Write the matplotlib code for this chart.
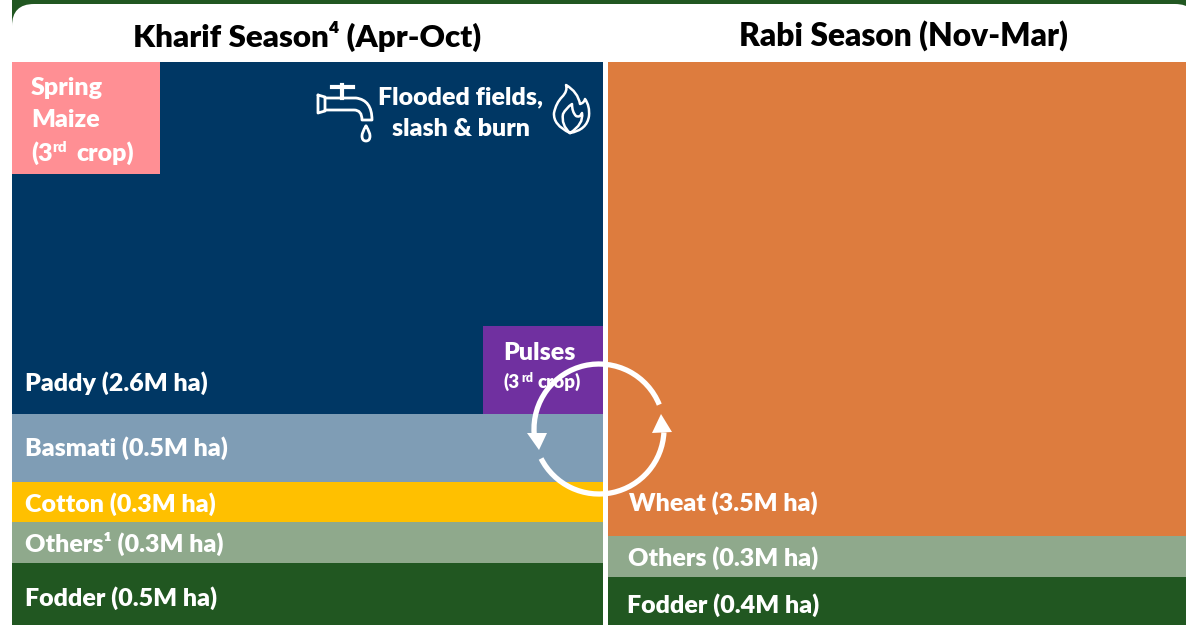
"""Cropped area by season: stacked blocks, drawn in pixel coordinates."""

import matplotlib
matplotlib.use("Agg")
import matplotlib.pyplot as plt
from matplotlib.patches import Arc, FancyBboxPatch, PathPatch, Polygon, Rectangle
from matplotlib.path import Path

plt.rcParams["font.family"] = ["Lato", "DejaVu Sans"]
plt.rcParams["font.weight"] = "heavy"

kharif_crops = ["Fodder", "Others", "Cotton", "Basmati", "Paddy"]
kharif_area = [0.46, 0.30, 0.30, 0.50, 2.61]
kharif_labels = ["Fodder (0.5M ha)", "Others¹ (0.3M ha)", "Cotton (0.3M ha)",
                 "Basmati (0.5M ha)", "Paddy (2.6M ha)"]
rabi_crops = ["Fodder", "Others", "Wheat"]
rabi_area = [0.355, 0.305, 3.51]
rabi_labels = ["Fodder (0.4M ha)", "Others (0.3M ha)", "Wheat (3.5M ha)"]

COLOURS = {"Fodder": "#215721", "Others": "#8FA98C", "Cotton": "#FFC000",
           "Basmati": "#7F9DB5", "Paddy": "#003764", "Wheat": "#DD7C3E"}
MAIZE = "#FF8F94"
PULSES = "#7030A0"

W, H = 1186, 625
PX_PER_MHA = 135
FS = 18


def stack(ax, crops, area, x0, x1):
    bottom = H
    for crop, a in zip(crops, area):
        h = a * PX_PER_MHA
        ax.bar(x0, h, width=x1 - x0, bottom=bottom - h, align="edge",
               color=COLOURS[crop], linewidth=0, zorder=2)
        bottom -= h


def label(ax, x, y, s, size=FS, **kw):
    ax.text(x, y, s, color="white", fontsize=size, va="center", ha="left", zorder=4, **kw)


def third_crop(ax, x, y, size, sup, rd_dx, crop_dx):
    # "(3rd crop)" with a raised "rd"
    label(ax, x, y, "(3", size=size)
    label(ax, x + rd_dx, y - size * 0.3, "rd", size=sup)
    label(ax, x + crop_dx, y, "crop)", size=size)


def outline(ax, verts, codes, lw=2.0):
    ax.add_patch(PathPatch(Path(verts, codes), facecolor="none", edgecolor="white",
                           lw=lw, capstyle="round", joinstyle="round", zorder=4))


def tap_icon(ax):
    M, L, C3 = Path.MOVETO, Path.LINETO, Path.CURVE3
    outline(ax, [(318, 95), (325, 97), (325, 111), (318, 113), (318, 95)],
            [M, L, L, L, L])
    outline(ax, [(325, 98), (356, 98), (372, 100), (372, 120), (362, 120),
                 (362, 110), (354, 110), (325, 110)],
            [M, L, C3, C3, L, C3, C3, L])
    ax.plot([332, 353], [87, 87], color="white", lw=3, zorder=4)
    ax.plot([342, 342], [85, 98], color="white", lw=3, zorder=4)
    # water drop, pointed at the top and round below
    outline(ax, [(366, 126), (370, 132), (370, 136), (370, 141), (366, 141),
                 (362, 141), (362, 136), (362, 132), (366, 126)],
            [M, C3, C3, C3, C3, C3, C3, C3, C3])


def flame_icon(ax):
    M, C3 = Path.MOVETO, Path.CURVE3
    outline(ax, [(570, 133), (553, 125), (554, 113), (556, 103), (562, 97),
                 (568, 91), (566, 85), (578, 92), (580, 104), (584, 103),
                 (585, 99), (590, 106), (589, 116), (587, 130), (570, 133)],
            [M, C3, C3, C3, C3, C3, C3, C3, C3, C3, C3, C3, C3, C3, C3], lw=1.8)
    outline(ax, [(570, 133), (561, 125), (563, 114), (566, 108), (572, 104),
                 (572, 112), (576, 116), (580, 118), (582, 113), (584, 124), (570, 133)],
            [M, C3, C3, C3, C3, C3, C3, C3, C3, C3, C3], lw=1.8)


def cycle_arrows(ax):
    cx, cy, d = 599, 429, 130
    for t1, t2 in [(176, 338), (3, 153)]:
        ax.add_patch(Arc((cx, cy), d, d, theta1=t1, theta2=t2, color="white", lw=3.8, zorder=5))
    ax.add_patch(Polygon([(527, 433), (547, 433), (539, 450)], color="white", lw=0, zorder=5))
    ax.add_patch(Polygon([(652, 433), (672, 432), (661, 414)], color="white", lw=0, zorder=5))


def main():
    fig = plt.figure(figsize=(W / 100, H / 100), dpi=100)
    ax = fig.add_axes([0, 0, 1, 1])
    ax.set_xlim(0, W)
    ax.set_ylim(H, 0)
    ax.axis("off")

    # header panel: white rounded tab over a green strip
    ax.add_patch(Rectangle((12, 0), W - 12, 40, color=COLOURS["Fodder"], lw=0, zorder=0))
    ax.add_patch(FancyBboxPatch((34, 26), 1141, 60, boxstyle="round,pad=22,rounding_size=22",
                                facecolor="white", edgecolor="none", zorder=1))
    ax.text(307, 36, "Kharif Season⁴ (Apr-Oct)", fontsize=22.6, color="black",
            ha="center", va="center", zorder=4)
    ax.text(903, 36, "Rabi Season (Nov-Mar)", fontsize=22.9, color="black",
            ha="center", va="center", zorder=4)

    stack(ax, kharif_crops, kharif_area, 12, 603)
    stack(ax, rabi_crops, rabi_area, 608, W)
    ax.add_patch(Rectangle((12, 62), 148, 112, color=MAIZE, lw=0, zorder=3))
    ax.add_patch(Rectangle((483, 326), 120, 88, color=PULSES, lw=0, zorder=3))

    for s, y in zip(kharif_labels, [598, 544, 504, 448, 383]):
        label(ax, 25, y, s)
    for s, x, y in zip(rabi_labels, [627, 628, 629], [605, 558, 503]):
        label(ax, x, y, s)

    label(ax, 31, 88, "Spring")
    label(ax, 31, 120, "Maize")
    third_crop(ax, 31, 153, FS, 11, 21, 45)
    label(ax, 503, 353, "Pulses")
    third_crop(ax, 503, 382, 13.5, 9, 18, 34)

    ax.text(461, 97, "Flooded fields,", color="white", fontsize=FS, ha="center",
            va="center", zorder=4)
    ax.text(461, 129, "slash & burn", color="white", fontsize=FS, ha="center",
            va="center", zorder=4)
    tap_icon(ax)
    flame_icon(ax)
    cycle_arrows(ax)

    fig.savefig("out.png", dpi=100)


if __name__ == "__main__":
    main()
